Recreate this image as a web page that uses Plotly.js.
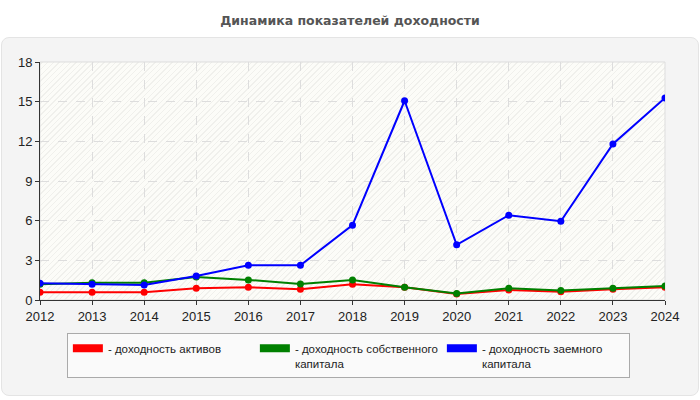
<!DOCTYPE html>
<html>
<head>
<meta charset="utf-8">
<script src="https://cdn.plot.ly/plotly-3.0.1.min.js"></script>
<style>
  body { margin: 0; background: #ffffff; }
  #panel {
    position: absolute; left: 1px; top: 37px; width: 696px; height: 357px;
    background: #f4f4f4; border: 1px solid #e4e4e4; border-radius: 8px;
  }
  #hatch {
    position: absolute; left: 40px; top: 62px; width: 625px; height: 238px;
    background-color: #fcfcf8;
    background-image: repeating-linear-gradient(-45deg, #f0f0ec 0px, #f0f0ec 1px, transparent 1px, transparent 4px);
  }
  #myChart { position: absolute; left: 0; top: 0; width: 700px; height: 400px; }
</style>
</head>
<body>
<div id="panel"></div>
<div id="hatch"></div>
<div id="myChart"></div>
<script>
var years = ['2012', '2013', '2014', '2015', '2016', '2017', '2018', '2019', '2020', '2021', '2022', '2023', '2024'];

var series_names = [
  '- доходность активов',
  '- доходность собственного<br>капитала',
  '- доходность заемного<br>капитала'
];
var series_colours = ['#ff0000', '#008000', '#0000ff'];

var assets_return = [0.58, 0.58, 0.58, 0.88, 0.96, 0.81, 1.2, 0.96, 0.45, 0.76, 0.63, 0.81, 0.96];
var equity_return = [1.19, 1.3, 1.3, 1.74, 1.52, 1.21, 1.52, 0.96, 0.5, 0.88, 0.71, 0.88, 1.06];
var debt_return = [1.26, 1.19, 1.14, 1.82, 2.63, 2.63, 5.66, 15.07, 4.17, 6.41, 5.96, 11.8, 15.28];

var plot_data = [assets_return, equity_return, debt_return];

var data = [];

// lines with markers, legend swatches come from the thick dummy lines below
for (let i = 0; i < plot_data.length; i++) {
  data.push({
    x: years,
    y: plot_data[i],
    type: 'scatter',
    mode: 'lines+markers',
    line: { color: series_colours[i], width: 2 },
    marker: { color: series_colours[i], size: 7 },
    showlegend: false,
    hoverinfo: 'skip'
  });
}

for (let i = 0; i < plot_data.length; i++) {
  data.push({
    x: [null],
    y: [null],
    type: 'scatter',
    mode: 'lines',
    name: series_names[i],
    line: { color: series_colours[i], width: 8 },
    showlegend: true,
    hoverinfo: 'skip'
  });
}

var layout = {
  width: 700,
  height: 400,
  font: { family: 'Liberation Sans, Arial, sans-serif', size: 12, color: '#222222' },
  title: {
    text: '<b>Динамика показателей доходности</b>',
    font: { family: 'DejaVu Sans, sans-serif', size: 12.5, color: '#555555' },
    x: 0.5,
    xanchor: 'center',
    y: 0.948,
    yanchor: 'middle'
  },
  paper_bgcolor: 'rgba(0,0,0,0)',
  plot_bgcolor: 'rgba(0,0,0,0)',
  margin: { l: 40, r: 35, t: 62, b: 100, autoexpand: false },
  xaxis: {
    type: 'category',
    range: [0, 12],
    showgrid: true,
    gridcolor: '#dddddd',
    griddash: 'dash',
    showline: true,
    linecolor: '#333333',
    linewidth: 1,
    ticks: 'outside',
    ticklen: 4,
    tickcolor: '#333333',
    zeroline: false,
    tickfont: { size: 13, color: '#222222' }
  },
  yaxis: {
    range: [0, 18],
    tickvals: [0, 3, 6, 9, 12, 15, 18],
    showgrid: true,
    gridcolor: '#dddddd',
    griddash: 'dash',
    showline: true,
    linecolor: '#333333',
    linewidth: 1,
    ticks: 'outside',
    ticklen: 4,
    tickcolor: '#333333',
    zeroline: false,
    tickfont: { size: 13, color: '#222222' }
  },
  shapes: [{
    type: 'rect', xref: 'paper', yref: 'paper',
    x0: 0, x1: 1, y0: 0, y1: 1,
    line: { color: '#dddddd', width: 1 },
    layer: 'below'
  }],
  legend: {
    orientation: 'h',
    x: 0.043,
    xanchor: 'left',
    y: -0.14,
    yanchor: 'top',
    bgcolor: '#fafafa',
    bordercolor: '#aaaaaa',
    borderwidth: 1,
    entrywidth: 142,
    itemwidth: 30,
    valign: 'top',
    traceorder: 'normal',
    font: { size: 11.5, color: '#222222' }
  }
};

Plotly.newPlot('myChart', data, layout, { displayModeBar: false, staticPlot: true });
</script>
</body>
</html>
